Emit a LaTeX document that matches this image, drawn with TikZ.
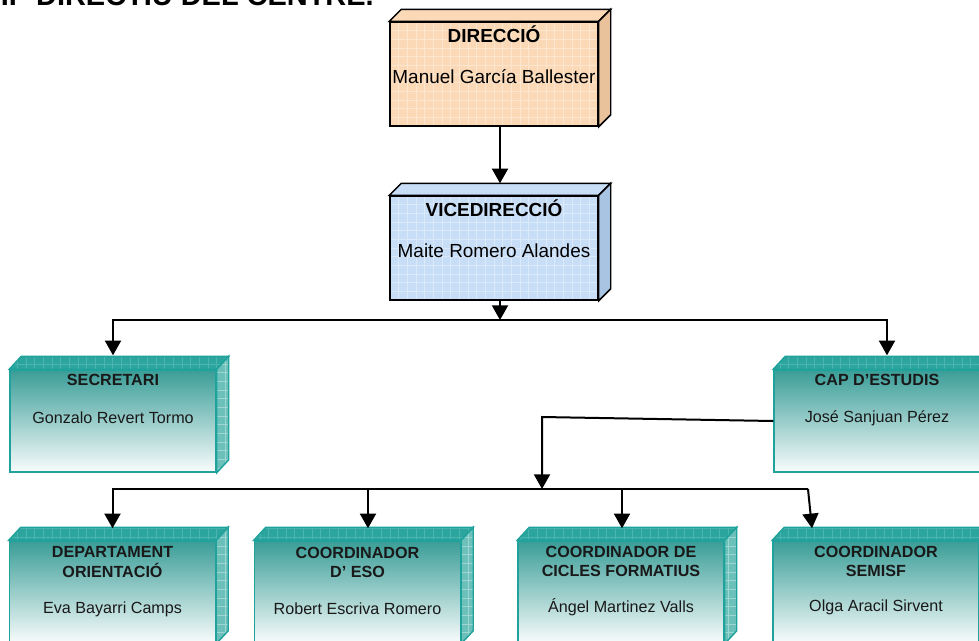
\documentclass[tikz,border=0pt]{standalone}
\usepackage{fontspec}
\setmainfont{Liberation Sans}
\usetikzlibrary{arrows.meta}

\definecolor{preset}{HTML}{FBD8B6}
\definecolor{presetfosc}{HTML}{E9C29C}
\definecolor{blau}{HTML}{C8DEF7}
\definecolor{blaufosc}{HTML}{A9C3E2}
\definecolor{verd}{HTML}{1FA29B}
\definecolor{verdtapa}{HTML}{2CA59E}
\definecolor{verdlat}{HTML}{6CC0BA}
\definecolor{verdalt}{HTML}{3A9D97}
\definecolor{verdmig}{HTML}{A9D3D0}

\tikzset{
  malla/.style={path picture={\draw[#1, line width=0.4pt] (path picture bounding box.south west) grid[step=6.5pt] (path picture bounding box.north east);}},
  granbox/.style={rectangle, draw=black, line width=1.1pt, minimum width=156pt, minimum height=78pt, inner sep=0pt},
  verdbox/.style={rectangle, draw=verd, line width=1.1pt, minimum width=154.5pt, minimum height=76.5pt, inner sep=0pt,
    top color=verdalt, middle color=verdmig, bottom color=white!97!verd},
  tapa/.style={draw=verd, line width=1.1pt, fill=verdtapa, malla=verd!80!white},
  lateral/.style={draw=verd, line width=1.1pt, fill=verdlat, malla=white!35!verdlat},
  capcal/.style={font=\fontsize{12.1}{14.3}\selectfont\bfseries, align=center, inner sep=0pt, text=black!90},
  nom/.style={font=\fontsize{12.1}{14.3}\selectfont, inner sep=0pt, text=black!90},
  capgran/.style={font=\fontsize{14.2}{16}\selectfont\bfseries, inner sep=0pt},
  nomgran/.style={font=\fontsize{14.2}{16}\selectfont, inner sep=0pt},
  fletxa/.style={line width=1.5pt, -{Triangle[width=12pt,length=11pt]}},
  linia/.style={line width=1.5pt}
}

\begin{document}
\begin{tikzpicture}[x=0.75pt, y=-0.75pt]
\useasboundingbox (0,0) rectangle (979,640);

\node[font=\fontsize{21.7}{26}\selectfont\bfseries, inner sep=0pt, anchor=base east] (titol) at (374,5) {EQUIP DIRECTIU DEL CENTRE.};

% direccio
\node[granbox, fill=preset, malla=white!35!preset] (dir) at (494,74) {};
\node[granbox, fill=blau, malla=white!35!blau] (vdir) at (494,248) {};
\foreach \n/\t/\l in {dir/preset/presetfosc, vdir/blau/blaufosc} {
  \filldraw[fill=\t, draw=black, line width=1.1pt] (\n.north west) -- ++(12,-12) -- ([shift={(12,-12)}]\n.north east) -- (\n.north east) -- cycle;
  \filldraw[fill=\l, draw=black, line width=1.1pt] (\n.north east) -- ++(12,-12) -- ([shift={(12,-12)}]\n.south east) -- (\n.south east) -- cycle;
}
\node[capgran] (dirC) at (494,34) {DIRECCIÓ};
\node[nomgran] (dirN) at (494,77) {Manuel García Ballester};
\node[capgran] (vdirC) at (494,208) {VICEDIRECCIÓ};
\node[nomgran] (vdirN) at (494,251) {Maite Romero Alandes};

% caps
\node[verdbox] (sec) at (113,421) {};
\node[verdbox] (estudis) at (877,421) {};
\node[verdbox] (orient) at (112.5,592) {};
\node[verdbox] (eso) at (357.5,592) {};
\node[verdbox] (cicles) at (621,592) {};
\node[verdbox] (semisf) at (876,592) {};
\foreach \n in {sec,estudis,orient,eso,cicles,semisf} {
  \filldraw[tapa] (\n.north west) -- ++(12,-13) -- ([shift={(12,-13)}]\n.north east) -- (\n.north east) -- cycle;
  \filldraw[lateral] (\n.north east) -- ++(12,-13) -- ([shift={(12,-13)}]\n.south east) -- (\n.south east) -- cycle;
}

\node[capcal] (secC) at (113,380) {SECRETARI};
\node[nom] (secN) at (113,418) {Gonzalo Revert Tormo};
\node[capcal] (estudisC) at (877,380) {CAP D’ESTUDIS};
\node[nom] (estudisN) at (877,418) {José Sanjuan Pérez};
\node[capcal] (orientC) at (112.5,562) {DEPARTAMENT\\ORIENTACIÓ};
\node[nom] (orientN) at (112.5,609) {Eva Bayarri Camps};
\node[capcal] (esoC) at (357.5,562) {COORDINADOR\\D’ ESO};
\node[nom] (esoN) at (357.5,609) {Robert Escriva Romero};
\node[capcal] (ciclesC) at (621,561) {COORDINADOR DE\\CICLES FORMATIUS};
\node[nom] (ciclesN) at (621,607) {Ángel Martinez Valls};
\node[capcal] (semisfC) at (876,561) {COORDINADOR\\SEMISF};
\node[nom] (semisfN) at (876,607) {Olga Aracil Sirvent};

% connexions
\coordinate (b1) at (500,320);
\coordinate (b2) at (542,489);
\coordinate (b3) at (808,489);
\draw[fletxa] ([shift={(6,0)}]dir.south) -- ([shift={(6,-12)}]vdir.north);
\draw[fletxa] ([shift={(6,0)}]vdir.south) -- (b1);
\draw[fletxa] (b1) -| ([shift={(0,-14)}]sec.north);
\draw[fletxa] (b1) -| ([shift={(10,-14)}]estudis.north);
\draw[fletxa] (estudis.west) -- (542,417) -- (b2);
\draw[linia] (b2) -- (b3);
\draw[fletxa] (b2) -| ([shift={(0,-12)}]orient.north);
\draw[fletxa] (b2) -| ([shift={(10.5,-12)}]eso.north);
\draw[fletxa] (b2) -| ([shift={(1,-12)}]cicles.north);
\draw[fletxa] (b3) -- ([shift={(-64,-12)}]semisf.north);
\end{tikzpicture}
\end{document}
